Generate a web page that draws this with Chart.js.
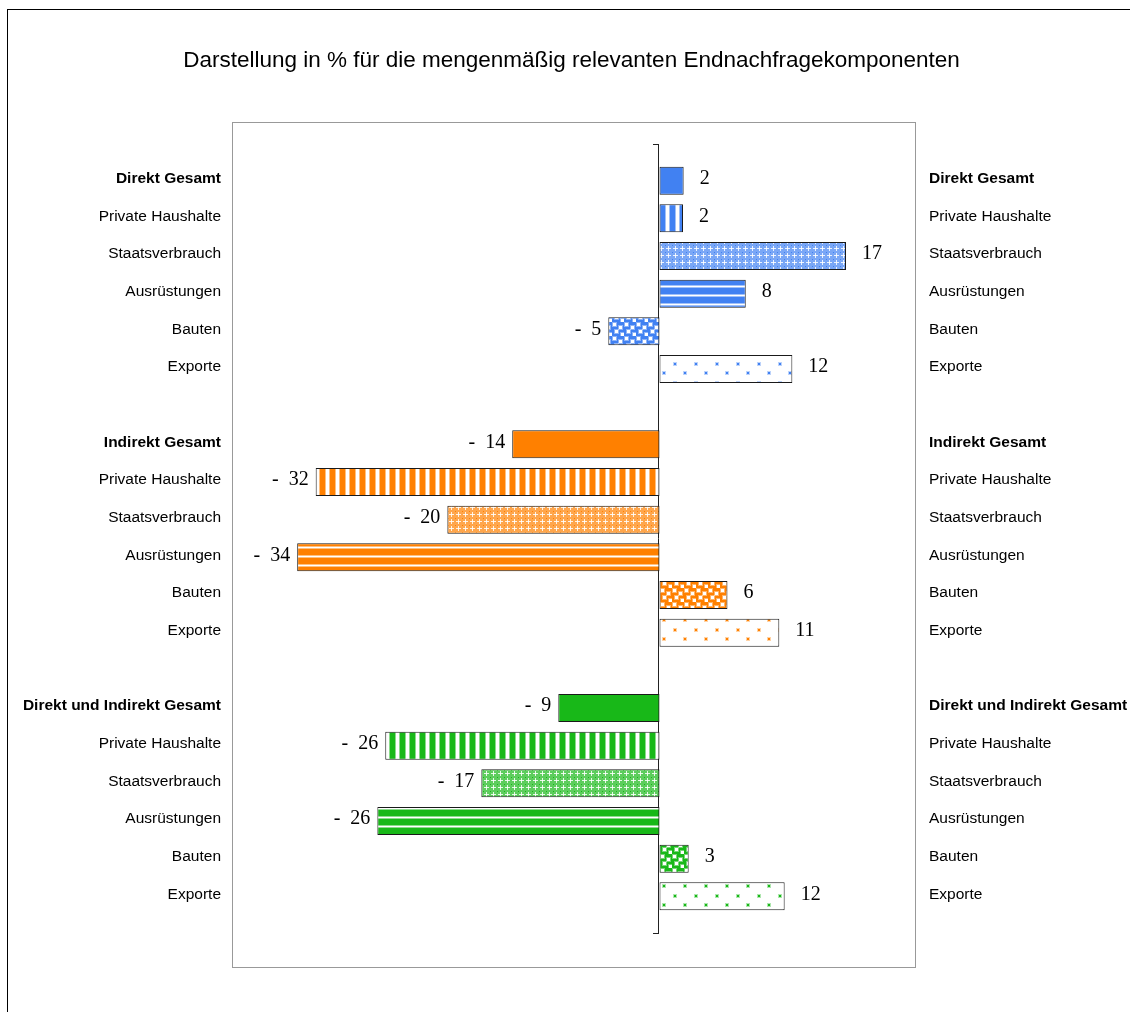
<!DOCTYPE html>
<html>
<head>
<meta charset="utf-8">
<script src="https://cdn.jsdelivr.net/npm/chart.js@4/dist/chart.umd.min.js"></script>
<style>
html, body { margin: 0; padding: 0; background: #fff; overflow: hidden; }
#wrap { position: relative; width: 1130px; height: 1012px; }
#frame { position: absolute; left: 7px; top: 9px; width: 1200px; height: 1100px; border: 1px solid #000; pointer-events: none; }
</style>
</head>
<body>
<div id="wrap"><canvas id="chart" width="1130" height="1012"></canvas><div id="frame"></div></div>
<script>
// --- Daten ---
const chartTitle = 'Darstellung in % für die mengenmäßig relevanten Endnachfragekomponenten';
const groupTitles = ['Direkt Gesamt', 'Indirekt Gesamt', 'Direkt und Indirekt Gesamt'];
const rowNames = ['Private Haushalte', 'Staatsverbrauch', 'Ausrüstungen', 'Bauten', 'Exporte'];
// erster Wert = Gesamt, dann die fünf Komponenten
const direkt   = [2.26, 2.2, 17.45, 8.07, -4.79, 12.43];
const indirekt = [-13.78, -32.17, -19.85, -33.9, 6.36, 11.21];
const gesamt   = [-9.47, -25.66, -16.67, -26.4, 2.73, 11.71];
const groupColors = ['#4181f2', '#ff8000', '#18b818'];
const fillKinds = ['solid', 'vstripe', 'lattice', 'hstripe', 'confetti', 'dots'];

// --- Muster (Schraffuren wie in Excel) ---
function makePattern(kind, color) {
    if (kind === 'solid') return color;
    const c = document.createElement('canvas');
    const g = c.getContext('2d');
    if (kind === 'vstripe') {
        c.width = 10; c.height = 10;
        g.fillStyle = '#fff'; g.fillRect(0, 0, 10, 10);
        g.fillStyle = color; g.fillRect(0, 0, 5, 10);
        g.globalAlpha = 0.5; g.fillRect(5, 0, 1, 10); g.fillRect(9, 0, 1, 10);
    } else if (kind === 'hstripe') {
        c.width = 10; c.height = 9;
        g.fillStyle = color; g.fillRect(0, 0, 10, 9);
        g.fillStyle = '#fff'; g.fillRect(0, 7, 10, 1);
        g.globalAlpha = 0.5; g.fillRect(0, 6, 10, 1); g.fillRect(0, 8, 10, 1);
    } else if (kind === 'lattice') {
        c.width = 7; c.height = 7;
        g.fillStyle = '#fff'; g.fillRect(0, 0, 7, 7);
        g.fillStyle = color; g.globalAlpha = 0.7; g.fillRect(0, 0, 7, 7);
        g.globalAlpha = 0.85; g.fillStyle = '#fff';
        g.fillRect(3, 1, 1, 5); g.fillRect(1, 3, 5, 1);
        g.globalAlpha = 1; g.fillStyle = color; g.fillRect(0, 0, 1, 1);
    } else if (kind === 'confetti') {
        c.width = 12; c.height = 14;
        g.fillStyle = color; g.fillRect(0, 0, 12, 14);
        g.fillStyle = '#fff';
        [[1, 1], [7, 4], [3, 8], [9, 11]].forEach(p => g.fillRect(p[0], p[1], 3, 3));
        g.globalAlpha = 0.4;
        [[1, 1], [7, 4], [3, 8], [9, 11]].forEach(p => g.fillRect(p[0] - 1, p[1] - 1, 5, 5));
    } else if (kind === 'dots') {
        c.width = 21; c.height = 19;
        g.fillStyle = '#fff'; g.fillRect(0, 0, 21, 19);
        g.fillStyle = color; g.globalAlpha = 0.35;
        g.fillRect(1, 1, 4, 4); g.fillRect(11, 10, 4, 4);
        g.globalAlpha = 1;
        g.fillRect(2, 2, 2, 2); g.fillRect(12, 11, 2, 2);
    }
    return g.createPattern(c, 'repeat');
}

// --- Tabelle fuer Chart.js aufbauen ---
const labels = [''];
const values = [null];
const fills = [null];
const boldIdx = new Set();
[direkt, indirekt, gesamt].forEach((arr, gi) => {
    if (gi > 0) { labels.push(''); values.push(null); fills.push(null); }
    arr.forEach((v, ri) => {
        if (ri === 0) boldIdx.add(labels.length);
        labels.push(ri === 0 ? groupTitles[gi] : rowNames[ri - 1]);
        values.push(v);
        fills.push(makePattern(fillKinds[ri], groupColors[gi]));
    });
});
labels.push(''); values.push(null); fills.push(null);

const tickFont = (c) => ({
    family: '"Liberation Sans", Arial, sans-serif',
    size: 15.5,
    weight: boldIdx.has(c.index) ? 'bold' : 'normal'
});

// Rahmen der Zeichnungsflaeche und Nullachse
const plotFrame = {
    id: 'plotFrame',
    beforeDatasetsDraw(chart) {
        const a = chart.chartArea, ctx = chart.ctx;
        const x0 = Math.round(chart.scales.x.getPixelForValue(0)) - 2;
        ctx.save();
        ctx.strokeStyle = '#999';
        ctx.lineWidth = 1;
        ctx.strokeRect(a.left + 0.5, a.top - 21 + 0.5, a.right - a.left - 1, a.bottom - a.top + 54);
        ctx.strokeStyle = '#222';
        ctx.beginPath();
        ctx.moveTo(x0 + 0.5, a.top + 1);
        ctx.lineTo(x0 + 0.5, a.bottom - 1);
        ctx.moveTo(x0 - 5, a.top + 1.5); ctx.lineTo(x0 + 1, a.top + 1.5);
        ctx.moveTo(x0 - 5, a.bottom - 0.5); ctx.lineTo(x0 + 1, a.bottom - 0.5);
        ctx.stroke();
        ctx.restore();
    }
};

const valueLabels = {
    id: 'valueLabels',
    afterDatasetsDraw(chart) {
        const meta = chart.getDatasetMeta(0);
        const data = chart.data.datasets[0].data;
        const ctx = chart.ctx;
        ctx.save();
        ctx.font = '20px "Liberation Serif", "Times New Roman", serif';
        ctx.fillStyle = '#000';
        ctx.textBaseline = 'middle';
        meta.data.forEach((bar, i) => {
            const v = data[i];
            if (v == null) return;
            const n = Math.round(Math.abs(v));
            if (v < 0) {
                ctx.textAlign = 'right';
                ctx.fillText('-  ' + n, bar.x - 7, bar.y - 2);
            } else {
                ctx.textAlign = 'left';
                ctx.fillText(String(n), bar.x + 16, bar.y - 2);
            }
        });
        ctx.restore();
    }
};

new Chart(document.getElementById('chart'), {
    type: 'bar',
    data: {
        labels: labels,
        datasets: [{
            data: values,
            backgroundColor: fills,
            borderColor: '#1a1a1a',
            borderWidth: 1,
            borderSkipped: false,
            barPercentage: 0.745,
            categoryPercentage: 1
        }]
    },
    options: {
        indexAxis: 'y',
        responsive: false,
        animation: false,
        layout: { padding: { left: 13, right: 0, top: 0, bottom: 78 } },
        plugins: {
            legend: { display: false },
            tooltip: { enabled: false },
            title: {
                display: true,
                text: chartTitle,
                color: '#000',
                font: { family: '"Liberation Sans", Arial, sans-serif', size: 22.5, weight: 'normal' },
                padding: { top: 47, bottom: 69 }
            }
        },
        scales: {
            x: { display: false, min: -40, max: 24 },
            y: {
                offset: false,
                grid: { display: false, drawTicks: false },
                border: { display: false },
                ticks: { autoSkip: false, color: '#000', padding: 11, labelOffset: -2, font: tickFont },
                afterFit: (s) => { s.width = 219; }
            },
            yR: {
                type: 'category',
                position: 'right',
                offset: false,
                grid: { display: false, drawTicks: false },
                border: { display: false },
                ticks: { autoSkip: false, color: '#000', padding: 13, labelOffset: -2, font: tickFont },
                afterFit: (s) => { s.width = 214; }
            }
        }
    },
    plugins: [plotFrame, valueLabels]
});
</script>
</body>
</html>
